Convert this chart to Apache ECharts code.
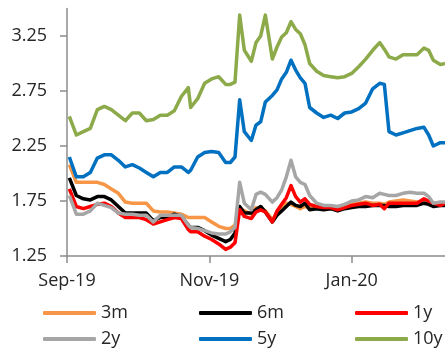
<!DOCTYPE html>
<html>
<head>
<meta charset="utf-8">
<script src="https://cdn.jsdelivr.net/npm/echarts@6/dist/echarts.min.js"></script>
<style>
  html, body { margin: 0; padding: 0; background: #fff; }
  #chart { width: 445px; height: 351px; }
</style>
</head>
<body>
<div id="chart"></div>
<script>
// dates (approx. every 2-3 days, plus the spikes)
var dates = [
  "2019-09-02", "2019-09-05", "2019-09-08", "2019-09-11", "2019-09-14", "2019-09-17", "2019-09-20", "2019-09-23",
  "2019-09-26", "2019-09-29", "2019-10-02", "2019-10-05", "2019-10-08", "2019-10-11", "2019-10-14", "2019-10-17",
  "2019-10-20", "2019-10-23", "2019-10-24", "2019-10-27", "2019-10-30", "2019-11-02", "2019-11-05", "2019-11-08",
  "2019-11-10", "2019-11-12", "2019-11-14", "2019-11-16", "2019-11-19", "2019-11-21", "2019-11-23", "2019-11-25",
  "2019-11-28", "2019-11-30", "2019-12-02", "2019-12-04", "2019-12-06", "2019-12-08", "2019-12-10", "2019-12-12",
  "2019-12-14", "2019-12-17", "2019-12-20", "2019-12-23", "2019-12-26", "2019-12-29", "2020-01-01", "2020-01-04",
  "2020-01-07", "2020-01-10", "2020-01-13", "2020-01-15", "2020-01-17", "2020-01-20", "2020-01-23", "2020-01-26",
  "2020-01-29", "2020-02-01", "2020-02-03", "2020-02-05", "2020-02-08", "2020-02-10"
];

var y3m = [
  2.08, 1.92, 1.92, 1.92, 1.92, 1.90, 1.86, 1.82, 1.74, 1.73, 1.73, 1.73, 1.66, 1.65, 1.65, 1.64,
  1.63, 1.60, 1.60, 1.60, 1.60, 1.56, 1.52, 1.50, 1.50, 1.53, 1.68, 1.66, 1.63, 1.69, 1.68, 1.66,
  1.58, 1.63, 1.68, 1.73, 1.72, 1.70, 1.68, 1.70, 1.69, 1.69, 1.69, 1.69, 1.68, 1.71, 1.72, 1.73,
  1.74, 1.73, 1.73, 1.72, 1.74, 1.75, 1.76, 1.75, 1.74, 1.75, 1.74, 1.73, 1.73, 1.73
];
var y6m = [
  1.96, 1.80, 1.77, 1.76, 1.79, 1.79, 1.76, 1.70, 1.64, 1.64, 1.64, 1.64, 1.57, 1.60, 1.60, 1.63,
  1.61, 1.53, 1.51, 1.51, 1.48, 1.44, 1.41, 1.38, 1.40, 1.46, 1.70, 1.64, 1.64, 1.67, 1.70, 1.65,
  1.56, 1.62, 1.66, 1.70, 1.74, 1.71, 1.70, 1.73, 1.67, 1.68, 1.67, 1.68, 1.66, 1.68, 1.69, 1.70,
  1.70, 1.71, 1.71, 1.71, 1.70, 1.70, 1.71, 1.71, 1.71, 1.73, 1.72, 1.70, 1.71, 1.71
];
var y1y = [
  1.86, 1.70, 1.68, 1.70, 1.72, 1.73, 1.70, 1.64, 1.60, 1.60, 1.60, 1.58, 1.54, 1.56, 1.58, 1.60,
  1.59, 1.49, 1.47, 1.47, 1.43, 1.40, 1.36, 1.31, 1.33, 1.37, 1.67, 1.61, 1.59, 1.65, 1.67, 1.65,
  1.56, 1.66, 1.72, 1.78, 1.89, 1.79, 1.74, 1.77, 1.72, 1.70, 1.69, 1.69, 1.67, 1.69, 1.71, 1.72,
  1.73, 1.71, 1.72, 1.68, 1.73, 1.73, 1.73, 1.73, 1.73, 1.77, 1.75, 1.73, 1.71, 1.73
];
var y2y = [
  1.80, 1.63, 1.63, 1.66, 1.73, 1.71, 1.69, 1.64, 1.63, 1.63, 1.62, 1.62, 1.56, 1.62, 1.62, 1.62,
  1.62, 1.53, 1.51, 1.50, 1.48, 1.46, 1.45, 1.45, 1.47, 1.51, 1.92, 1.73, 1.67, 1.81, 1.83, 1.81,
  1.74, 1.78, 1.85, 1.97, 2.12, 1.97, 1.92, 1.90, 1.80, 1.73, 1.71, 1.71, 1.70, 1.72, 1.75, 1.76,
  1.79, 1.78, 1.82, 1.81, 1.80, 1.80, 1.82, 1.83, 1.82, 1.82, 1.79, 1.73, 1.74, 1.74
];
var y5y = [
  2.15, 1.97, 1.97, 2.01, 2.14, 2.17, 2.17, 2.12, 2.06, 2.08, 2.05, 2.01, 1.97, 2.01, 2.01, 2.06,
  2.06, 2.01, 2.03, 2.15, 2.19, 2.20, 2.19, 2.10, 2.10, 2.15, 2.67, 2.38, 2.30, 2.44, 2.47, 2.65,
  2.71, 2.76, 2.86, 2.92, 3.03, 2.94, 2.87, 2.82, 2.60, 2.55, 2.51, 2.53, 2.50, 2.55, 2.56, 2.59,
  2.64, 2.77, 2.82, 2.81, 2.38, 2.35, 2.37, 2.39, 2.41, 2.42, 2.35, 2.25, 2.28, 2.28
];
var y10y = [
  2.52, 2.35, 2.38, 2.41, 2.58, 2.61, 2.58, 2.53, 2.48, 2.55, 2.55, 2.48, 2.49, 2.53, 2.53, 2.57,
  2.70, 2.78, 2.60, 2.68, 2.82, 2.86, 2.88, 2.81, 2.81, 2.83, 3.44, 3.12, 3.02, 3.19, 3.25, 3.44,
  3.04, 3.15, 3.24, 3.28, 3.38, 3.31, 3.27, 3.17, 3.00, 2.93, 2.89, 2.88, 2.87, 2.88, 2.91, 2.97,
  3.04, 3.12, 3.19, 3.13, 3.06, 3.04, 3.08, 3.08, 3.08, 3.14, 3.12, 3.03, 2.99, 3.00
];

var yTicks = [1.25, 1.75, 2.25, 2.75, 3.25];
var xTickDates = ["2019-09-01", "2019-11-01", "2020-01-01"];
var months = ["Jan", "Feb", "Mar", "Apr", "May", "Jun", "Jul", "Aug", "Sep", "Oct", "Nov", "Dec"];

var FONT = "'Open Sans', sans-serif";
var TXT = "#262626";
var AXIS = "#8c8c8c";

// x is days since 1 Sep 2019 (plain value axis, so ticks can be placed on month starts)
var DAY = 86400000;
var start = Date.UTC(2019, 8, 1);
function dayOf(s) {
  var p = s.split("-");
  return Math.round((Date.UTC(+p[0], +p[1] - 1, +p[2]) - start) / DAY);
}
var xTicks = xTickDates.map(dayOf);

function pairs(vals) {
  return dates.map(function (d, i) { return [dayOf(d), vals[i]]; });
}

function line(name, vals, color) {
  return {
    type: "line",
    name: name,
    data: pairs(vals),
    showSymbol: false,
    symbol: "none",
    lineStyle: { width: 3.5, color: color, join: "round" },
    itemStyle: { color: color },
  };
}

function legendCol(names, left) {
  return {
    data: names,
    orient: "vertical",
    left: left,
    top: 303,
    padding: 0,
    itemWidth: 53,
    itemHeight: 4,
    itemGap: 6,
    icon: "roundRect",
    textStyle: { fontFamily: FONT, fontSize: 18, color: TXT, lineHeight: 20 },
  };
}

var chart = echarts.init(document.getElementById("chart"));
chart.setOption({
  animation: false,
  grid: { left: 67, right: 0, top: 8.5, bottom: 95, containLabel: false, outerBoundsMode: "none" },
  legend: [
    legendCol(["3m", "2y"], 43),
    legendCol(["6m", "5y"], 199),
    legendCol(["1y", "10y"], 355),
  ],
  xAxis: {
    type: "value",
    min: 0,
    max: dayOf("2020-02-10"),
    axisLine: { lineStyle: { color: AXIS, width: 1.5 } },
    axisTick: { show: true, length: 7, customValues: xTicks, lineStyle: { color: AXIS, width: 1.5 } },
    axisLabel: {
      customValues: xTicks,
      margin: 16,
      fontFamily: FONT,
      fontSize: 18,
      color: TXT,
      formatter: function (v) {
        var d = new Date(start + v * DAY);
        return months[d.getUTCMonth()] + "-" + String(d.getUTCFullYear()).slice(2);
      },
    },
    splitLine: { show: false },
  },
  yAxis: {
    type: "value",
    min: 1.25,
    max: 3.5,
    interval: 0.5,
    axisLine: { show: true, lineStyle: { color: AXIS, width: 1.5 } },
    axisTick: { show: true, length: 7, customValues: yTicks, lineStyle: { color: AXIS, width: 1.5 } },
    axisLabel: {
      customValues: yTicks,
      margin: 20,
      fontFamily: FONT,
      fontSize: 18,
      color: TXT,
      formatter: function (v) { return v.toFixed(2); },
    },
    splitLine: { show: false },
  },
  series: [
    line("3m", y3m, "#F79646"),
    line("6m", y6m, "#000000"),
    line("1y", y1y, "#FF0000"),
    line("2y", y2y, "#A6A6A6"),
    line("5y", y5y, "#0070C0"),
    line("10y", y10y, "#8CAA4A"),
  ],
});
</script>
</body>
</html>
